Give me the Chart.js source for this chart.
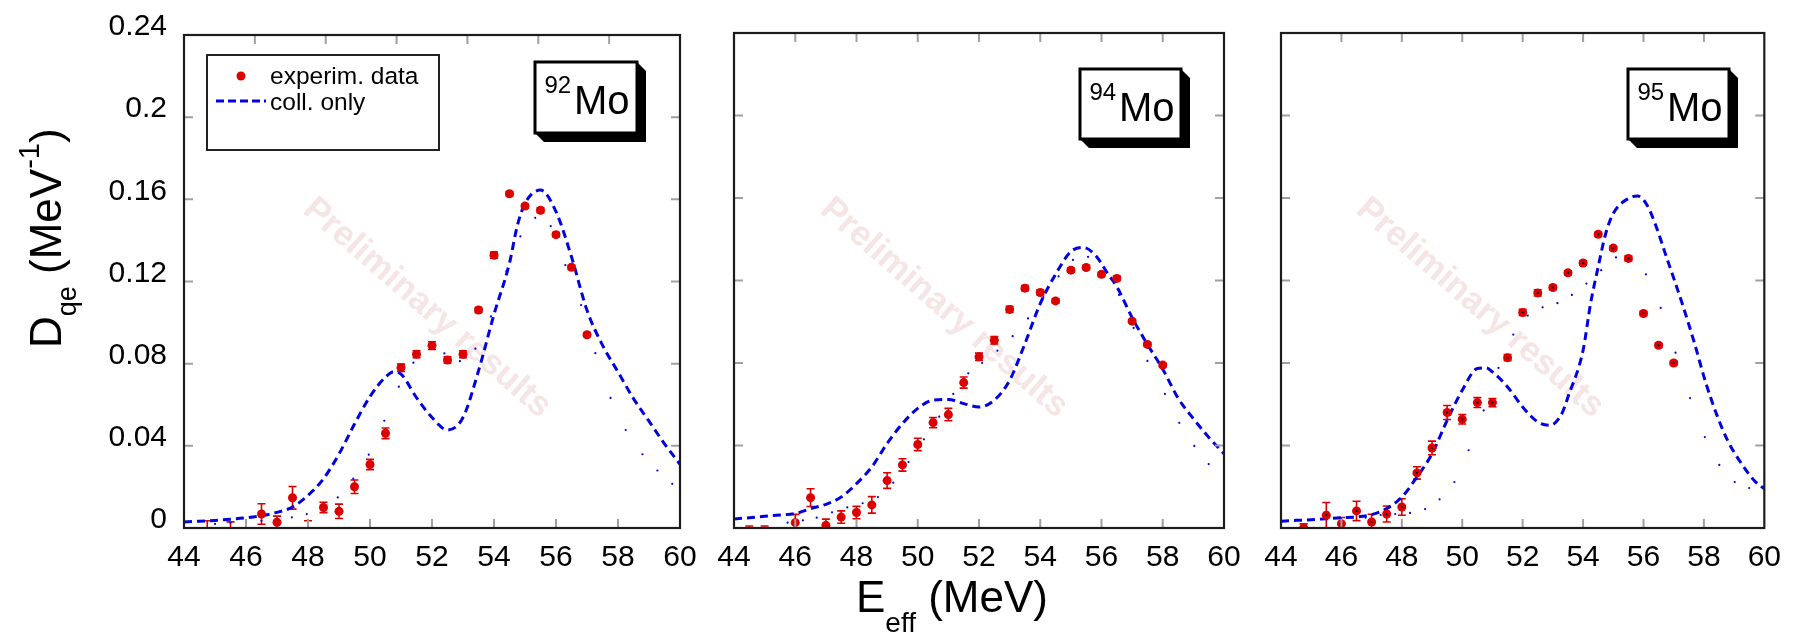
<!DOCTYPE html>
<html>
<head>
<meta charset="utf-8">
<title>Quasi-elastic barrier distributions, 92,94,95Mo</title>
<script src="https://cdn.jsdelivr.net/npm/chart.js@4.4.1/dist/chart.umd.min.js"></script>
<style>
  html, body { margin: 0; padding: 0; background: #fff; }
  #wrap { position: relative; width: 1793px; height: 635px; overflow: hidden; }
  #wrap canvas { position: absolute; left: 0; top: 0; }
</style>
</head>
<body>
<div id="wrap">
  <canvas id="c92" width="1793" height="635"></canvas>
  <canvas id="c94" width="1793" height="635"></canvas>
  <canvas id="c95" width="1793" height="635"></canvas>
</div>
<script>
// ---------- axis ticks ----------
const xTickLabels = ['44', '46', '48', '50', '52', '54', '56', '58', '60'];
const yTickLabels = ['0', '0.04', '0.08', '0.12', '0.16', '0.2', '0.24'];

// ---------- 92Mo ----------
const expE92   = [44.75, 45.5, 46.5, 47, 47.5, 48, 48.5, 49, 49.5, 50, 50.5, 51, 51.5, 52, 52.5, 53, 53.5, 54, 54.5, 55, 55.5, 56, 56.5, 57];
const expD92   = [-0.003, -0.003, 0.0068, 0.0028, 0.0147, -0.003, 0.0100, 0.0081, 0.0201, 0.0309, 0.0461, 0.0780, 0.0846, 0.0888, 0.0818, 0.0846, 0.1061, 0.1328, 0.1627, 0.1567, 0.1547, 0.1428, 0.1269, 0.0941];
const expErr92 = [0.0065, 0.006, 0.0050, 0.0030, 0.0055, 0.0065, 0.0025, 0.0035, 0.0033, 0.0025, 0.0026, 0.0018, 0.0017, 0.0019, 0.0015, 0.0017, 0.0012, 0.0015, 0.0010, 0.0010, 0.0012, 0.0010, 0.0010, 0.0008];
const collE92  = [44, 44.5, 45, 45.5, 46, 46.5, 47, 47.5, 48, 48.5, 49, 49.5, 50, 50.5, 50.75, 51, 51.5, 52, 52.5, 53, 53.5, 54, 54.5, 54.75, 55, 55.5, 56, 56.5, 57, 57.5, 58, 58.5, 59, 59.5, 60];
const collD92  = [0.0029, 0.0033, 0.0037, 0.0043, 0.0050, 0.0060, 0.0076, 0.0102, 0.0159, 0.0240, 0.0360, 0.0506, 0.0640, 0.0735, 0.0760, 0.0749, 0.0635, 0.0538, 0.0477, 0.0538, 0.0765, 0.1040, 0.1290, 0.1470, 0.1580, 0.1645, 0.1540, 0.1320, 0.1060, 0.0890, 0.0760, 0.0630, 0.0520, 0.0410, 0.0310];
const fullE92  = [45.0, 45.5, 46.0, 46.5, 47.0, 47.48, 47.96, 48.46, 48.96, 49.46, 49.96, 50.46, 50.93, 51.4, 51.9, 52.4, 52.9, 53.4, 53.9, 54.4, 54.85, 55.33, 55.83, 56.3, 56.81, 57.27, 57.76, 58.25, 58.79, 59.27, 59.75];
const fullD92  = [0.0020, 0.0025, 0.0030, 0.0035, 0.0042, 0.0052, 0.0068, 0.0095, 0.0149, 0.0240, 0.0357, 0.0522, 0.0688, 0.0805, 0.0893, 0.0850, 0.0812, 0.0873, 0.1030, 0.1250, 0.1420, 0.1510, 0.1470, 0.1280, 0.1085, 0.0851, 0.0633, 0.0477, 0.0359, 0.0280, 0.0215];

// ---------- 94Mo ----------
const expE94   = [44.5, 45, 46, 46.5, 47, 47.5, 48, 48.5, 49, 49.5, 50, 50.5, 51, 51.5, 52, 52.5, 53, 53.5, 54, 54.5, 55, 55.5, 56, 56.5, 57, 57.5, 58];
const expD94   = [-0.002, -0.002, 0.0026, 0.0147, 0.0013, 0.0053, 0.0075, 0.0112, 0.0230, 0.0306, 0.0405, 0.0511, 0.0550, 0.0705, 0.0830, 0.0910, 0.1060, 0.1163, 0.1142, 0.1101, 0.1250, 0.1263, 0.1230, 0.1210, 0.1003, 0.0890, 0.0790];
const expErr94 = [0.003, 0.003, 0.0040, 0.0043, 0.0030, 0.0030, 0.0030, 0.0040, 0.0038, 0.0030, 0.0030, 0.0025, 0.0030, 0.0027, 0.0018, 0.0018, 0.0015, 0.0012, 0.0012, 0.0010, 0.0010, 0.0010, 0.0010, 0.0010, 0.0008, 0.0008, 0.0008];
const collE94  = [44, 44.5, 45, 45.5, 46, 46.5, 47, 47.5, 48, 48.5, 49, 49.5, 50, 50.5, 51, 51.5, 52, 52.5, 53, 53.5, 54, 54.5, 55, 55.4, 55.8, 56.2, 56.5, 57, 57.5, 58, 58.5, 59, 59.5, 60];
const collD94  = [0.0044, 0.0050, 0.0057, 0.0063, 0.0070, 0.0094, 0.0115, 0.0150, 0.0215, 0.0296, 0.0410, 0.0506, 0.0580, 0.0620, 0.0623, 0.0603, 0.0587, 0.0620, 0.0716, 0.0894, 0.1088, 0.1230, 0.1340, 0.1360, 0.1323, 0.1234, 0.1170, 0.1020, 0.0890, 0.0770, 0.0630, 0.0530, 0.0440, 0.0360];
const fullE94  = [45.75, 46.25, 46.7, 47.2, 47.7, 48.2, 48.7, 49.2, 49.7, 50.2, 50.7, 51.16, 51.65, 52.1, 52.6, 53.1, 53.6, 54.1, 54.6, 55.07, 55.56, 56.07, 56.57, 57.05, 57.5, 58.07, 58.54, 59.03, 59.5];
const fullD94  = [0.0026, 0.0037, 0.0050, 0.0076, 0.0100, 0.0120, 0.0150, 0.0220, 0.0320, 0.0430, 0.0540, 0.0650, 0.0750, 0.0800, 0.0860, 0.0930, 0.1016, 0.1120, 0.1220, 0.1300, 0.1315, 0.1240, 0.1130, 0.0970, 0.0810, 0.0650, 0.0510, 0.0398, 0.0310];

// ---------- 95Mo ----------
const expE95   = [44.75, 45.5, 46, 46.5, 47, 47.5, 48, 48.5, 49, 49.5, 50, 50.5, 51, 51.5, 52, 52.5, 53, 53.5, 54, 54.5, 55, 55.5, 56, 56.5, 57];
const expD95   = [0.0000, 0.0062, 0.0021, 0.0083, 0.0029, 0.0068, 0.0102, 0.0267, 0.0388, 0.0560, 0.0527, 0.0608, 0.0608, 0.0826, 0.1045, 0.1140, 0.1166, 0.1237, 0.1285, 0.1424, 0.1357, 0.1307, 0.1040, 0.0886, 0.0800];
const expErr95 = [0.0020, 0.0062, 0.0030, 0.0047, 0.0038, 0.0039, 0.0040, 0.0030, 0.0033, 0.0034, 0.0023, 0.0024, 0.0020, 0.0015, 0.0015, 0.0015, 0.0010, 0.0010, 0.0010, 0.0010, 0.0010, 0.0012, 0.0010, 0.0010, 0.0010];
const collE95  = [44, 44.5, 45, 45.5, 46, 46.5, 47, 47.5, 48, 48.5, 49, 49.5, 50, 50.5, 50.8, 51, 51.5, 52, 52.5, 52.9, 53.3, 53.5, 54, 54.25, 54.5, 54.75, 55, 55.5, 55.8, 56.1, 56.45, 56.7, 57.05, 57.3, 57.7, 58.05, 58.45, 58.8, 59.3, 59.7, 60];
const collD95  = [0.0033, 0.0037, 0.0040, 0.0045, 0.0050, 0.0053, 0.0065, 0.0094, 0.0150, 0.0247, 0.0360, 0.0522, 0.0668, 0.0773, 0.0776, 0.0757, 0.0684, 0.0587, 0.0514, 0.0498, 0.0555, 0.0635, 0.0862, 0.1090, 0.1266, 0.1428, 0.1525, 0.1598, 0.1610, 0.1570, 0.1450, 0.1340, 0.1190, 0.1080, 0.0890, 0.0710, 0.0540, 0.0420, 0.0300, 0.0225, 0.0190];
const fullE95  = [46.8, 47.3, 47.78, 48.27, 48.77, 49.25, 49.74, 50.21, 50.71, 51.2, 51.69, 52.17, 52.66, 53.15, 53.63, 54.11, 54.6, 55.09, 55.58, 56.08, 56.57, 57.06, 57.54, 58.03, 58.51, 59.02, 59.5];
const fullD95  = [0.0050, 0.0063, 0.0068, 0.0073, 0.0092, 0.0139, 0.0223, 0.0377, 0.0570, 0.0776, 0.0938, 0.1030, 0.1070, 0.1090, 0.1130, 0.1185, 0.1250, 0.1312, 0.1300, 0.1230, 0.1067, 0.0850, 0.0630, 0.0441, 0.0306, 0.0223, 0.0194];

// ---------- layout & style ----------
const FONT = "'Liberation Sans', Arial, Helvetica, sans-serif";
const W = 1793, H = 635;
const PLOT_TOP = 33, PLOT_BOTTOM = 528;
const Y_AXIS_W = 90, X_AXIS_H = 60;
const RED = '#dd0000', BLUE = '#0000e0';
const X_MIN = 44, X_MAX = 60, X_STEP = 2;
const Y_MIN = 0, Y_MAX = 0.24, Y_STEP = 0.04;

const pts = (xs, ys) => xs.map((x, i) => ({ x, y: ys[i] }));
const range = (a, b, s) => { const r = []; for (let v = a; v <= b + 1e-9; v += s) r.push(+v.toFixed(6)); return r; };

// draws a run of text pieces (with sub/superscripts) starting at (0,0) in the current transform
function richText(ctx, pieces) {
  let x = 0;
  for (const p of pieces) {
    ctx.font = `${p.size}px ${FONT}`;
    ctx.fillText(p.t, x, p.dy || 0);
    x += ctx.measureText(p.t).width;
  }
}

const watermark = {
  id: 'watermark',
  beforeDatasetsDraw(chart, args, o) {
    const ctx = chart.ctx;
    ctx.save();
    ctx.translate(o.cx, o.cy);
    ctx.rotate(o.angle * Math.PI / 180);
    ctx.font = `bold 35px ${FONT}`;
    ctx.fillStyle = '#f5e5e5';
    ctx.textAlign = 'center';
    ctx.textBaseline = 'middle';
    ctx.fillText(o.text, 0, 0);
    ctx.restore();
  }
};

const errorBars = {
  id: 'errorBars',
  beforeDatasetsDraw(chart, args, o) {
    const { ctx, chartArea: a, scales: { x, y } } = chart;
    ctx.save();
    ctx.beginPath();
    ctx.rect(a.left, a.top, a.right - a.left, a.bottom - a.top);
    ctx.clip();
    ctx.strokeStyle = RED;
    ctx.lineWidth = 1.6;
    ctx.beginPath();
    o.xs.forEach((xv, i) => {
      const px = x.getPixelForValue(xv);
      const lo = y.getPixelForValue(o.ys[i] - o.errs[i]);
      const hi = y.getPixelForValue(o.ys[i] + o.errs[i]);
      ctx.moveTo(px, lo); ctx.lineTo(px, hi);
      ctx.moveTo(px - 4, lo); ctx.lineTo(px + 4, lo);
      ctx.moveTo(px - 4, hi); ctx.lineTo(px + 4, hi);
    });
    ctx.stroke();
    ctx.restore();
  }
};

const panelFrame = {
  id: 'panelFrame',
  afterDatasetsDraw(chart, args, o) {
    const { ctx, chartArea: a, scales: { x, y } } = chart;
    ctx.save();
    ctx.strokeStyle = '#a0a0a0';
    ctx.lineWidth = 2;
    ctx.beginPath();
    for (const v of o.bottomTicks) { const px = x.getPixelForValue(v); ctx.moveTo(px, a.bottom); ctx.lineTo(px, a.bottom - 9); }
    for (const v of o.topTicks) { const px = x.getPixelForValue(v); ctx.moveTo(px, a.top); ctx.lineTo(px, a.top + 9); }
    for (const v of o.sideTicks) {
      const py = y.getPixelForValue(v);
      ctx.moveTo(a.left, py); ctx.lineTo(a.left + 9, py);
      ctx.moveTo(a.right, py); ctx.lineTo(a.right - 9, py);
    }
    ctx.stroke();
    ctx.strokeStyle = '#1c1c1c';
    ctx.lineWidth = 2.2;
    ctx.strokeRect(a.left, a.top, a.right - a.left, a.bottom - a.top);
    ctx.restore();
  }
};

const isotopeBox = {
  id: 'isotopeBox',
  afterDraw(chart, args, o) {
    const ctx = chart.ctx;
    const { l, t, r, b } = o.box;
    const d = 9;
    ctx.save();
    ctx.fillStyle = '#000';
    ctx.beginPath();
    ctx.moveTo(r, t); ctx.lineTo(r + d, t + d); ctx.lineTo(r + d, b + d);
    ctx.lineTo(l + d, b + d); ctx.lineTo(l, b); ctx.lineTo(r, b); ctx.closePath();
    ctx.fill();
    ctx.fillStyle = '#fff';
    ctx.fillRect(l, t, r - l, b - t);
    ctx.lineWidth = 3;
    ctx.strokeStyle = '#000';
    ctx.strokeRect(l, t, r - l, b - t);
    ctx.fillStyle = '#000';
    ctx.textAlign = 'left';
    ctx.textBaseline = 'alphabetic';
    ctx.font = `24px ${FONT}`;
    ctx.fillText(o.mass, l + 9.5, t + 31);
    ctx.font = `40px ${FONT}`;
    ctx.fillText(o.element, l + 39, t + 52);
    ctx.restore();
  }
};

const legendBox = {
  id: 'legendBox',
  afterDraw(chart, args, o) {
    if (!o.show) return;
    const ctx = chart.ctx;
    const ds = chart.data.datasets;
    ctx.save();
    ctx.lineWidth = 2;
    ctx.strokeStyle = '#222';
    ctx.strokeRect(207, 55, 232, 95);
    ctx.fillStyle = RED;
    ctx.beginPath(); ctx.arc(241, 76, 4.5, 0, Math.PI * 2); ctx.fill();
    ctx.strokeStyle = BLUE;
    ctx.lineWidth = 3;
    ctx.setLineDash([8, 4]);
    ctx.beginPath(); ctx.moveTo(216, 101); ctx.lineTo(266, 101); ctx.stroke();
    ctx.setLineDash([]);
    ctx.fillStyle = '#000';
    ctx.font = `24.5px ${FONT}`;
    ctx.textBaseline = 'alphabetic';
    ctx.fillText(ds[0].label, 270, 84);
    ctx.fillText(ds[1].label, 270, 110);
    ctx.restore();
  }
};

const axisTitles = {
  id: 'axisTitles',
  afterDraw(chart, args, o) {
    if (!o.show) return;
    const ctx = chart.ctx;
    ctx.save();
    ctx.fillStyle = '#000';
    ctx.textAlign = 'left';
    ctx.textBaseline = 'alphabetic';
    // x title
    ctx.save();
    ctx.translate(856, 612);
    richText(ctx, [
      { t: 'E', size: 44 },
      { t: 'eff', size: 28, dy: 20 },
      { t: ' (MeV)', size: 44 }
    ]);
    ctx.restore();
    // y title
    ctx.save();
    ctx.translate(61, 348);
    ctx.rotate(-Math.PI / 2);
    richText(ctx, [
      { t: 'D', size: 44 },
      { t: 'qe', size: 27, dy: 15 },
      { t: ' (MeV', size: 44 },
      { t: '-1', size: 29, dy: -22 },
      { t: ')', size: 44 }
    ]);
    ctx.restore();
    ctx.restore();
  }
};

function makePanel(cfg) {
  const datasets = [
    {
      label: 'experim. data',
      data: pts(cfg.expE, cfg.expD),
      showLine: false,
      pointRadius: 4.5,
      pointBorderWidth: 0,
      pointBackgroundColor: RED,
      borderColor: RED,
      order: 0
    },
    {
      label: 'coll. only',
      data: pts(cfg.collE, cfg.collD),
      showLine: true,
      borderColor: BLUE,
      borderWidth: 3,
      borderDash: [8, 5],
      cubicInterpolationMode: 'monotone',
      pointRadius: 0,
      fill: false,
      order: 1
    },
    {
      label: 'full calc.',
      data: pts(cfg.fullE, cfg.fullD),
      showLine: false,
      pointRadius: 1.1,
      pointBorderWidth: 0,
      pointBackgroundColor: BLUE,
      order: 2
    }
  ];
  if (cfg.centerDots) {
    datasets.push({
      label: 'centre',
      data: pts(cfg.expE, cfg.expD),
      showLine: false,
      pointRadius: 1.1,
      pointBorderWidth: 0,
      pointBackgroundColor: '#000',
      order: -1
    });
  }

  const xInner = range(X_MIN + X_STEP, X_MAX - X_STEP, X_STEP);
  const topTicks = cfg.topDivisions
    ? range(1, cfg.topDivisions - 1, 1).map(i => X_MIN + i * (X_MAX - X_MIN) / cfg.topDivisions)
    : xInner;

  return new Chart(document.getElementById(cfg.canvas), {
    type: 'scatter',
    data: { datasets },
    options: {
      responsive: false,
      animation: false,
      events: [],
      layout: {
        padding: {
          left: cfg.left - Y_AXIS_W,
          right: W - cfg.right,
          top: PLOT_TOP,
          bottom: H - PLOT_BOTTOM - X_AXIS_H
        }
      },
      scales: {
        x: {
          type: 'linear',
          min: X_MIN, max: X_MAX,
          afterFit: s => { s.height = X_AXIS_H; },
          grid: { display: false, drawTicks: false },
          border: { display: false },
          ticks: {
            stepSize: X_STEP,
            autoSkip: false,
            maxRotation: 0,
            padding: 12,
            color: '#000',
            font: { family: FONT, size: 30 },
            callback: v => xTickLabels[Math.round((v - X_MIN) / X_STEP)]
          }
        },
        y: {
          type: 'linear',
          min: Y_MIN, max: Y_MAX,
          afterFit: s => { s.width = Y_AXIS_W; },
          grid: { display: false, drawTicks: false },
          border: { display: false },
          ticks: {
            display: cfg.yLabels,
            stepSize: Y_STEP,
            padding: 17,
            labelOffset: -8,
            color: '#000',
            font: { family: FONT, size: 30 },
            callback: v => yTickLabels[Math.round((v - Y_MIN) / Y_STEP)]
          }
        }
      },
      plugins: {
        legend: { display: false },
        tooltip: { enabled: false },
        watermark: { text: 'Preliminary results', cx: cfg.mark[0], cy: cfg.mark[1], angle: 41 },
        errorBars: { xs: cfg.expE, ys: cfg.expD, errs: cfg.expErr },
        panelFrame: { bottomTicks: xInner, topTicks, sideTicks: range(Y_MIN + Y_STEP, Y_MAX - Y_STEP, Y_STEP) },
        isotopeBox: { box: cfg.box, mass: cfg.mass, element: 'Mo' },
        legendBox: { show: !!cfg.legend },
        axisTitles: { show: !!cfg.titles }
      }
    },
    plugins: [watermark, errorBars, panelFrame, isotopeBox, legendBox, axisTitles]
  });
}

makePanel({
  canvas: 'c92', left: 184, right: 680, yLabels: true, topDivisions: 7,
  expE: expE92, expD: expD92, expErr: expErr92,
  collE: collE92, collD: collD92, fullE: fullE92, fullD: fullD92,
  mark: [427, 308], box: { l: 535, t: 62, r: 637, b: 133 }, mass: '92',
  legend: true, titles: true
});
makePanel({
  canvas: 'c94', left: 734, right: 1224, yLabels: false,
  expE: expE94, expD: expD94, expErr: expErr94,
  collE: collE94, collD: collD94, fullE: fullE94, fullD: fullD94,
  mark: [944, 308], box: { l: 1080, t: 69, r: 1181, b: 139 }, mass: '94'
});
makePanel({
  canvas: 'c95', left: 1281, right: 1774, yLabels: false, centerDots: true,
  expE: expE95, expD: expD95, expErr: expErr95,
  collE: collE95, collD: collD95, fullE: fullE95, fullD: fullD95,
  mark: [1480, 308], box: { l: 1628, t: 69, r: 1729, b: 139 }, mass: '95'
});
</script>
</body>
</html>
